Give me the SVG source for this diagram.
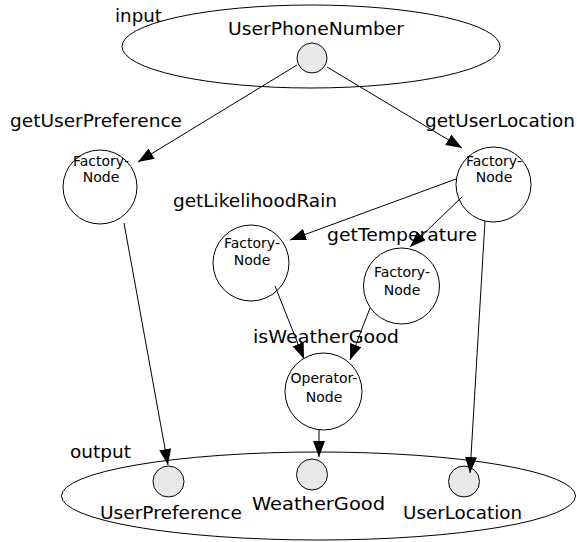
<svg xmlns="http://www.w3.org/2000/svg" width="577" height="542" viewBox="0 0 577 542">
<style>
text{font-family:"DejaVu Sans","Liberation Sans",sans-serif;fill:#000}
.lbl{font-size:18px}
.in{font-size:14px;text-anchor:middle}
.node{fill:#fff;stroke:#000;stroke-width:1}
.port{fill:#e8e8e6;stroke:#000;stroke-width:1}
.set{fill:none;stroke:#000;stroke-width:1}
.edge{fill:none;stroke:#000;stroke-width:1;marker-end:url(#ah)}
</style>
<defs>
<marker id="ah" markerUnits="userSpaceOnUse" markerWidth="17" markerHeight="13" refX="16" refY="6" orient="auto">
<path d="M0,0 L16,6 L0,12 z" fill="#000"/>
</marker>
</defs>
<g id="input">
<ellipse class="set" cx="311" cy="46.5" rx="189" ry="41.5"/>
<text class="lbl" x="115" y="22" textLength="47" lengthAdjust="spacingAndGlyphs">input</text>
<text class="lbl" x="228" y="35" textLength="176" lengthAdjust="spacingAndGlyphs">UserPhoneNumber</text>
<circle class="port" cx="312" cy="58" r="15"/>
</g>
<g id="getUserPreference">
<text class="lbl" x="10" y="127" textLength="172" lengthAdjust="spacingAndGlyphs">getUserPreference</text>
<circle class="node" cx="100" cy="187" r="37"/>
<text class="in" x="101" y="166">Factory-</text>
<text class="in" x="101" y="182">Node</text>
</g>
<g id="getUserLocation">
<text class="lbl" x="425" y="127" textLength="150" lengthAdjust="spacingAndGlyphs">getUserLocation</text>
<circle class="node" cx="493.5" cy="184.5" r="37.5"/>
<text class="in" x="494" y="166">Factory-</text>
<text class="in" x="494" y="182">Node</text>
</g>
<g id="getLikelihoodRain">
<text class="lbl" x="173" y="207" textLength="164" lengthAdjust="spacingAndGlyphs">getLikelihoodRain</text>
<circle class="node" cx="251" cy="263" r="38"/>
<text class="in" x="252" y="248">Factory-</text>
<text class="in" x="252" y="265">Node</text>
</g>
<g id="getTemperature">
<text class="lbl" x="327" y="241" textLength="150" lengthAdjust="spacingAndGlyphs">getTemperature</text>
<circle class="node" cx="401.5" cy="286" r="38"/>
<text class="in" x="402" y="277">Factory-</text>
<text class="in" x="402" y="295">Node</text>
</g>
<g id="isWeatherGood">
<text class="lbl" x="253" y="343" textLength="146" lengthAdjust="spacingAndGlyphs">isWeatherGood</text>
<circle class="node" cx="323.5" cy="391.5" r="38.5"/>
<text class="in" x="324" y="383">Operator-</text>
<text class="in" x="324" y="402">Node</text>
</g>
<g id="output">
<ellipse class="set" cx="318.5" cy="496" rx="257" ry="44"/>
<text class="lbl" x="70" y="458" textLength="61" lengthAdjust="spacingAndGlyphs">output</text>
<circle class="port" cx="168.5" cy="481.5" r="15.5"/>
<circle class="port" cx="312" cy="474.5" r="15.5"/>
<circle class="port" cx="464" cy="481.5" r="15.5"/>
<text class="lbl" x="100" y="519" textLength="142" lengthAdjust="spacingAndGlyphs">UserPreference</text>
<text class="lbl" x="252" y="510" textLength="133" lengthAdjust="spacingAndGlyphs">WeatherGood</text>
<text class="lbl" x="403" y="519" textLength="119" lengthAdjust="spacingAndGlyphs">UserLocation</text>
</g>
<g id="connectors">
<line class="edge" x1="297" y1="65" x2="138" y2="162"/>
<line class="edge" x1="327" y1="67" x2="462" y2="148"/>
<line class="edge" x1="456" y1="179" x2="290" y2="240"/>
<line class="edge" x1="462" y1="197" x2="410" y2="247"/>
<line class="edge" x1="275" y1="286" x2="304" y2="359"/>
<line class="edge" x1="370" y1="308" x2="350" y2="360"/>
<line class="edge" x1="124" y1="223" x2="168" y2="465"/>
<line class="edge" x1="319" y1="430" x2="319" y2="457"/>
<line class="edge" x1="485" y1="221" x2="470" y2="473"/>
</g>
</svg>
